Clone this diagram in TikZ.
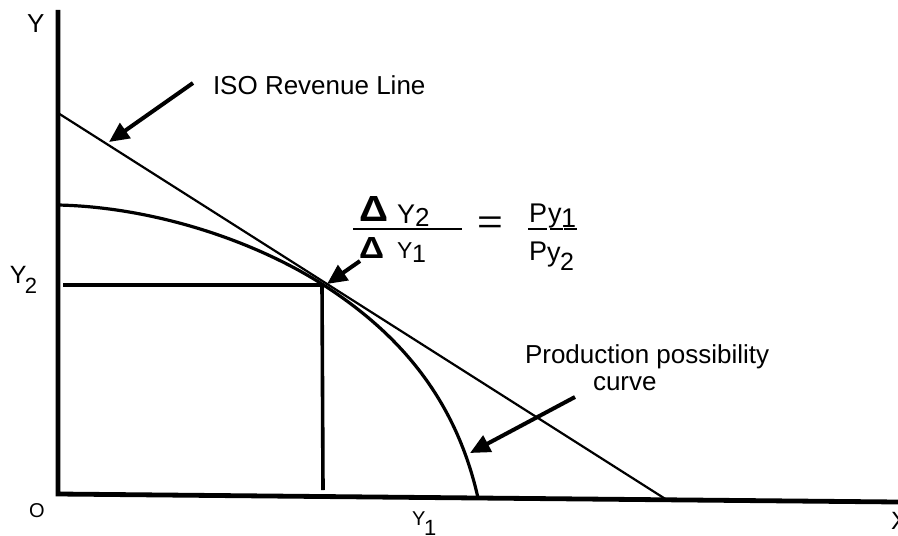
\documentclass[tikz,border=0pt]{standalone}
\usepackage{fontspec}
\setmainfont{Liberation Sans}
\usetikzlibrary{arrows.meta}
\newcommand{\fsz}[1]{\fontsize{#1}{#1}\selectfont}
\begin{document}
\begin{tikzpicture}[x=0.5pt,y=-0.5pt,
  lbl/.style={anchor=base west,inner sep=0pt,outer sep=0pt,text=black},
  axisline/.style={line width=2.4pt,line join=miter},
  isoline/.style={line width=1.1pt},
  ppcline/.style={line width=1.6pt},
  guide/.style={line width=1.8pt},
  bigarrow/.style={line width=2pt,-{Triangle[length=10pt,width=9pt]}},
  bar/.style={line width=1pt}]
\useasboundingbox (0,0) rectangle (898,535);
% named points
\coordinate (ytop) at (58,10);
\coordinate (orig) at (58,494);
\coordinate (xend) at (898,502);
\coordinate (isoA) at (58,113);
\coordinate (isoB) at (667,500);
\coordinate (ppcA) at (58,205);
\coordinate (tang) at (322,284);
\coordinate (ppcB) at (478,498);
\coordinate (hA) at (63,285);
\coordinate (vB) at (323,490);
% axes
\draw[axisline] (ytop) -- (orig) -- (xend);
% iso revenue line
\draw[isoline] (isoA) -- (isoB);
% production possibility curve
\draw[ppcline] (ppcA) .. controls (150,207) and (250,238.5) .. (tang)
   .. controls (395,330.5) and (455,395) .. (ppcB);
% guides
\draw[guide] (hA) -- (tang |- hA) -- (vB);
% labels
\node[lbl,font=\fsz{13}] (ylab) at (27,33) {Y};
\node[lbl,font=\fsz{13}] (iso) at (213,95) {ISO Revenue Line};
\node[lbl,font=\fsz{12.5}] (y2a) at (10,283) {Y};
\node[lbl,font=\fsz{11}] (y2b) at (25,293) {2};
\node[lbl,font=\fsz{10}] (olab) at (29,517) {O};
\node[lbl,font=\fsz{10}] (y1a) at (412,525) {Y};
\node[lbl,font=\fsz{11}] (y1b) at (424,535) {1};
\node[lbl,font=\fsz{12.5}] (xlab) at (891,529) {X};
\node[lbl,font=\fsz{13}] (pp1) at (525,363) {Production possibility};
\node[lbl,font=\fsz{13}] (pp2) at (593,390) {curve};
% equation
\node[lbl,font=\fsz{13}\bfseries] (dtop) at (359,221) {\resizebox{14.5pt}{12.5pt}{Δ}};
\node[lbl,font=\fsz{13.5}] (eqY2) at (397,223) {Y};
\node[lbl,font=\fsz{13}] (eq2) at (415,226) {2};
\coordinate (barA) at (353,229);
\coordinate (barB) at (462,229);
\draw[bar] (barA) -- (barB);
\node[lbl,font=\fsz{11}\bfseries] (dbot) at (359,258) {\resizebox{12.5pt}{10.5pt}{Δ}};
\node[lbl,font=\fsz{11.5}] (eqY1) at (397,258) {Y};
\node[lbl,font=\fsz{12.5}] (eq1) at (412,262) {1};
\node[lbl,font=\fsz{13}] (eqeq) at (477,233) {\scalebox{1.7}[1.3]{=}};
\node[lbl,font=\fsz{13.5}] (pt) at (529,222) {P};
\node[lbl,font=\fsz{13.5}] (ytp) at (548,222) {y};
\node[lbl,font=\fsz{13.5}] (one) at (561,227) {1};
\draw[bar] (528,228.5) -- (547,228.5);
\draw[bar] (550,228.5) -- (563,228.5);
\draw[bar] (564,228.5) -- (577,228.5);
\node[lbl,font=\fsz{13.5}] (pb) at (529,260) {P};
\node[lbl,font=\fsz{13.5}] (ybp) at (547,261) {y};
\node[lbl,font=\fsz{12.5}] (two) at (560,270) {2};
% arrows
\coordinate (a1s) at (193,83);
\coordinate (a1e) at (109,142);
\draw[bigarrow] (a1s) -- (a1e);
\coordinate (a2s) at (360,261);
\coordinate (a2e) at (327,284);
\draw[bigarrow] (a2s) -- (a2e);
\coordinate (a3s) at (575,397);
\coordinate (a3e) at (470,453);
\draw[bigarrow] (a3s) -- (a3e);
\end{tikzpicture}
\end{document}
